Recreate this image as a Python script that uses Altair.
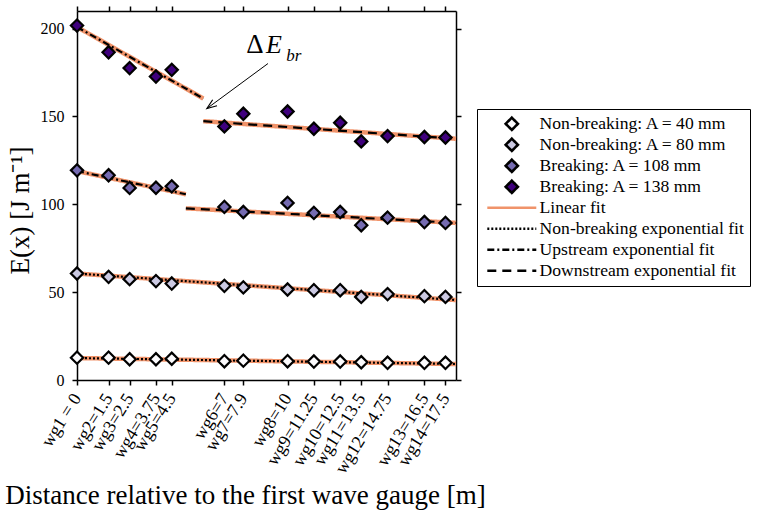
import altair as alt
import pandas as pd

# Wave gauge positions (m from the first gauge) and their tick labels
gauge_x = [0, 1.5, 2.5, 3.75, 4.5, 7, 7.9, 10, 11.25, 12.5, 13.5, 14.75, 16.5, 17.5]
gauge_labels = ["wg1 = 0", "wg2=1.5", "wg3=2.5", "wg4=3.75", "wg5=4.5", "wg6=7", "wg7=7.9",
                "wg8=10", "wg9=11.25", "wg10=12.5", "wg11=13.5", "wg12=14.75", "wg13=16.5", "wg14=17.5"]

# Measured wave energy E(x) [J/m] per amplitude
energy_40 = [12.7, 12.7, 11.8, 11.8, 12.1, 10.7, 11.0, 10.7, 10.5, 10.5, 10.1, 9.8, 9.8, 9.8]
energy_80 = [60.6, 58.7, 57.4, 56.3, 54.9, 53.6, 52.7, 51.5, 51.1, 51.1, 47.3, 48.9, 47.7, 47.3]
energy_108 = [119.3, 116.5, 109.3, 109.4, 110.2, 98.5, 95.6, 100.8, 95.1, 95.6, 88.1, 92.4, 89.9, 89.4]
energy_138 = [201.7, 186.5, 177.5, 172.7, 176.5, 144.3, 151.5, 152.8, 143.0, 146.4, 135.8, 138.8, 138.3, 138.0]

series_names = ["Non-breaking: A = 40 mm", "Non-breaking: A = 80 mm",
                "Breaking: A = 108 mm", "Breaking: A = 138 mm"]
fit_names = ["Linear fit", "Non-breaking exponential fit",
             "Upstream exponential fit", "Downstream exponential fit"]

# Fit segments: start/end of each fitted section
fit_kind = ["Non-breaking exponential fit", "Non-breaking exponential fit",
            "Upstream exponential fit", "Downstream exponential fit",
            "Upstream exponential fit", "Downstream exponential fit"]
fit_x0 = [0, 0, 0, 5.17, 0, 6.0]
fit_x1 = [18, 18, 5.17, 18, 6.0, 18]
fit_y0 = [12.5, 60.6, 118.9, 97.7, 200.9, 147.3]
fit_y1 = [9.1, 45.5, 105.7, 89.4, 160.2, 137.3]

# Annotation of the energy lost at breaking
arrow_x = [9.07, 6.17]
arrow_y = [180.1, 154.5]

SERIF = "Liberation Serif"

# ---- tables ----
pts = pd.DataFrame([
    {"key": name, "x": x, "E": e}
    for name, vals in zip(series_names, [energy_40, energy_80, energy_108, energy_138])
    for x, e in zip(gauge_x, vals)
])

lin_rows, exp_rows = [], []
for i, kind in enumerate(fit_kind):
    for x, y in [(fit_x0[i], fit_y0[i]), (fit_x1[i], fit_y1[i])]:
        lin_rows.append({"key": "Linear fit", "seg": i, "x": x, "E": y})
        exp_rows.append({"key": kind, "seg": i, "x": x, "E": y})
lin_df = pd.DataFrame(lin_rows)
exp_df = pd.DataFrame(exp_rows)

# ---- shared legend scales ----
keys = series_names + fit_names
dash_line = "M-4,0H4"
fill_range = ["#fcfbfd", "#cbc9e2", "#756bb1", "#3f007d"] + ["transparent"] * 4
stroke_range = ["black"] * 4 + ["#f0936a", "black", "black", "black"]
shape_range = ["diamond"] * 4 + [dash_line] * 4
dash_range = [[1, 0]] * 4 + [[1, 0], [2, 2], [7, 3, 2, 3], [9, 6]]

legend = alt.Legend(
    title=None, orient="none", legendX=400, legendY=98,
    strokeColor="black", fillColor="white", padding=6,
    labelFont=SERIF, labelFontSize=17.6, labelColor="black", labelLimit=400,
    symbolSize=150, symbolStrokeWidth=2.6, symbolOffset=20, labelOffset=19,
    gridAlign="all", rowPadding=-3.4,
)

fill_enc = alt.Fill("key:N", scale=alt.Scale(domain=keys, range=fill_range), legend=legend)
shape_enc = alt.Shape("key:N", scale=alt.Scale(domain=keys, range=shape_range), legend=legend)
stroke_enc = alt.Stroke("key:N", scale=alt.Scale(domain=keys, range=stroke_range), legend=legend)
dash_enc = alt.StrokeDash("key:N", scale=alt.Scale(domain=keys, range=dash_range), legend=legend)

xscale = alt.Scale(domain=[0, 18], nice=False, zero=False)
yscale = alt.Scale(domain=[0, 210], nice=False, zero=False)

label_expr = " : ".join(f"datum.value == {v} ? '{lab}'" for v, lab in zip(gauge_x, gauge_labels)) + " : ''"

axis_common = dict(domainColor="black", tickColor="black", domainWidth=1.5, tickWidth=1.5,
                   tickSize=5, labelColor="black", grid=False)

x_bottom = alt.Axis(orient="bottom", values=gauge_x, labelExpr=label_expr, labelAngle=-58,
                    labelAlign="right", labelBaseline="middle", labelFont=SERIF, labelFontSize=18,
                    labelPadding=10, labelOverlap=False,
                    title="Distance relative to the first wave gauge [m]", titleFont=SERIF,
                    titleFontSize=27, titleFontWeight="normal", titleColor="black",
                    titleX=168, titleY=115, titleAlign="center", titleBaseline="middle",
                    **axis_common)
y_left = alt.Axis(orient="left", values=[0, 50, 100, 150, 200], labelFont=SERIF, labelFontSize=16,
                  labelPadding=8, title="E(x)  [J m⁻¹]", titleFont=SERIF, titleFontSize=27,
                  titleFontWeight="normal", titleColor="black", titleX=-57, titleY=199,
                  titleAngle=270, titleAlign="center", titleBaseline="middle", **axis_common)
x_top = alt.Axis(orient="top", values=gauge_x, labels=False, title=None, **axis_common)
y_right = alt.Axis(orient="right", values=[0, 50, 100, 150, 200], labels=False, title=None, **axis_common)

linear = alt.Chart(lin_df).mark_line(strokeWidth=4.5).encode(
    x=alt.X("x:Q", scale=xscale, axis=None),
    y=alt.Y("E:Q", scale=yscale, axis=None),
    stroke=stroke_enc, strokeDash=dash_enc, detail="seg:N",
)

expfit = alt.Chart(exp_df).mark_line(strokeWidth=2.2).encode(
    x=alt.X("x:Q", scale=xscale, axis=x_top),
    y=alt.Y("E:Q", scale=yscale, axis=y_right),
    stroke=stroke_enc, strokeDash=dash_enc, detail="seg:N",
)

points = alt.Chart(pts).mark_point(filled=True, size=150, stroke="black", strokeWidth=2.2, opacity=1).encode(
    x=alt.X("x:Q", scale=xscale, axis=x_bottom),
    y=alt.Y("E:Q", scale=yscale, axis=y_left),
    fill=fill_enc, shape=shape_enc,
)

arrow_df = pd.DataFrame({"x": arrow_x, "E": arrow_y, "o": [0, 1]})
arrow_line = alt.Chart(arrow_df).mark_line(color="black", strokeWidth=1).encode(
    x=alt.X("x:Q", scale=xscale, axis=None),
    y=alt.Y("E:Q", scale=yscale, axis=None),
    order="o:Q",
)
arrow_head = alt.Chart(arrow_df.iloc[[1]]).mark_point(
    shape="M-0.6,1.6L0,0L0.6,1.6", size=150, angle=234, filled=False,
    stroke="black", strokeWidth=1.2, opacity=1,
).encode(
    x=alt.X("x:Q", scale=xscale, axis=None),
    y=alt.Y("E:Q", scale=yscale, axis=None),
)

label_df = pd.DataFrame({"x": [8.45, 9.35, 10.3], "E": [190.5, 190.5, 184.5],
                         "t": ["Δ", "E", "br"], "s": [27, 26, 17]})
delta_txt = alt.Chart(label_df.iloc[[0]]).mark_text(font=SERIF, color="black", baseline="middle").encode(
    x=alt.X("x:Q", scale=xscale, axis=None),
    y=alt.Y("E:Q", scale=yscale, axis=None),
    text="t:N", size=alt.Size("s:Q", scale=None),
)
ital_txt = alt.Chart(label_df.iloc[[1, 2]]).mark_text(font=SERIF, fontStyle="italic", color="black",
                                                       baseline="middle").encode(
    x=alt.X("x:Q", scale=xscale, axis=None),
    y=alt.Y("E:Q", scale=yscale, axis=None),
    text="t:N", size=alt.Size("s:Q", scale=None),
)

chart = alt.layer(linear, expfit, points, arrow_line, arrow_head, delta_txt, ital_txt).properties(
    width=379, height=369,
    autosize=alt.AutoSizeParams(type="none"),
    padding={"left": 77, "top": 11, "right": 302, "bottom": 136},
).configure_view(stroke="black", strokeWidth=1.5).configure(background="white")

chart.save("out.html", embed_options={"renderer": "svg", "actions": False})
